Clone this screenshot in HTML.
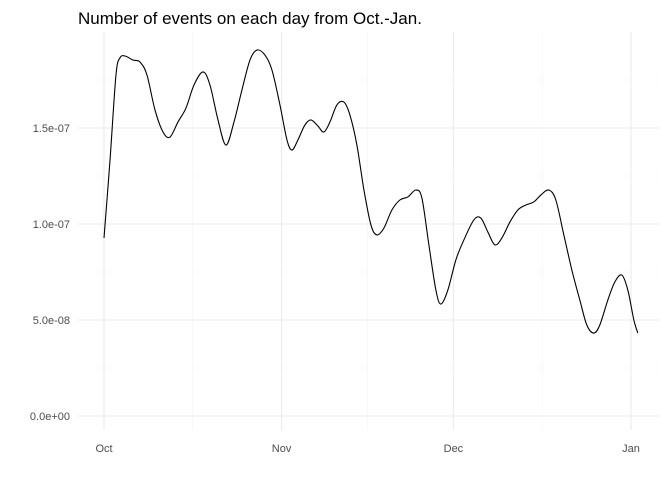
<!DOCTYPE html>
<html><head><meta charset="utf-8"><style>
body{margin:0;background:#fff;font-family:"Liberation Sans",sans-serif;}
</style></head><body>
<svg id="chart" width="672" height="480" xmlns="http://www.w3.org/2000/svg">
<text x="78" y="24" font-size="17" fill="#000">Number of events on each day from Oct.-Jan.</text>
<g id="grid"></g><g id="axes"></g><g id="series"></g>
</svg>
<script>
const days=[0,1.05,2.09,2.79,3.66,5.06,6.28,7.5,8.9,10.3,11.52,12.91,14.31,15.71,17.28,18.5,19.9,21.29,22.69,24.08,25.48,26.7,28.1,29.32,30.72,31.94,32.81,33.86,35.08,36.13,37.35,38.39,39.44,40.66,41.88,42.93,44.15,45.38,46.6,47.64,48.87,50.26,51.66,53.05,54.45,55.5,56.72,57.94,58.81,60.03,61.43,62.83,64.57,65.79,67.02,68.24,69.46,70.86,72.25,73.65,75.04,76.27,77.66,78.88,80.28,81.68,83.07,84.29,85.51,86.56,87.96,89.18,90.4,91.45,92.5,93.19];
const density=[9.27,13.33,17.76,18.65,18.75,18.54,18.44,17.76,15.94,14.79,14.53,15.31,16.04,17.24,17.92,17.24,15.42,14.11,15.31,16.98,18.54,19.06,18.8,18.02,16.2,14.38,13.85,14.38,15.16,15.42,15.1,14.79,15.31,16.2,16.35,15.68,14.11,11.77,9.95,9.43,9.79,10.73,11.25,11.41,11.77,11.35,8.91,6.56,5.83,6.56,8.13,9.17,10.21,10.31,9.58,8.91,9.27,10.1,10.73,10.99,11.15,11.51,11.77,11.25,9.43,7.6,6.04,4.74,4.32,4.74,6.04,6.98,7.34,6.56,5,4.32]; // units of 1e-8
const yTicks=[0,5,10,15];
const yTickLabels=["0.0e+00","5.0e-08","1.0e-07","1.5e-07"];
const xTicks=[0,31,61,92];
const xTickLabels=["Oct","Nov","Dec","Jan"];
const NS="http://www.w3.org/2000/svg";
const L=78,R=660,T=32,B=430;
function xs(d){return 104+d*5.728;}
function ys(v){return 416-v*19.2;}
function mk(tag,attrs,parent){const e=document.createElementNS(NS,tag);for(const k in attrs)e.setAttribute(k,attrs[k]);document.getElementById(parent).appendChild(e);return e;}
// minor grid
for(let i=0;i<yTicks.length;i++){
 const l=mk('line',{x1:L,x2:R,y1:ys(yTicks[i]+2.5),y2:ys(yTicks[i]+2.5),stroke:'#f3f3f3','stroke-width':0.6},'grid');
 
 
}
for(let i=0;i<xTicks.length-1;i++){
 const m=(xTicks[i]+xTicks[i+1])/2;
 const l=mk('line',{x1:xs(m),x2:xs(m),y1:T,y2:B,stroke:'#f3f3f3','stroke-width':0.6},'grid');
 
 
}
for(let i=0;i<yTicks.length;i++){
 const y=ys(yTicks[i]);
 const l=mk('line',{x1:L,x2:R,y1:y,y2:y,stroke:'#ebebeb','stroke-width':1.1},'grid');
 
 
 const t=mk('text',{x:70,y:y+4,'text-anchor':'end','font-size':11,fill:'#4d4d4d'},'axes');
 t.textContent=yTickLabels[i];
 
 
}
for(let i=0;i<xTicks.length;i++){
 const x=xs(xTicks[i]);
 const l=mk('line',{x1:x,x2:x,y1:T,y2:B,stroke:'#ebebeb','stroke-width':1.1},'grid');
 
 
 const t=mk('text',{x:x,y:452,'text-anchor':'middle','font-size':11,fill:'#4d4d4d'},'axes');
 t.textContent=xTickLabels[i];
 
 
}
const pts=days.map((d,i)=>[xs(d),ys(density[i])]);
let p='M'+pts[0][0]+','+pts[0][1];
for(let i=0;i<pts.length-1;i++){
 const p0=pts[Math.max(0,i-1)],p1=pts[i],p2=pts[i+1],p3=pts[Math.min(pts.length-1,i+2)];
 const c1=[p1[0]+(p2[0]-p0[0])/6,p1[1]+(p2[1]-p0[1])/6];
 const c2=[p2[0]-(p3[0]-p1[0])/6,p2[1]-(p3[1]-p1[1])/6];
 p+=' C'+c1+' '+c2+' '+p2;
}
const path=mk('path',{d:p,fill:'none',stroke:'#000','stroke-width':1.1},'series');


</script>
</body></html>
